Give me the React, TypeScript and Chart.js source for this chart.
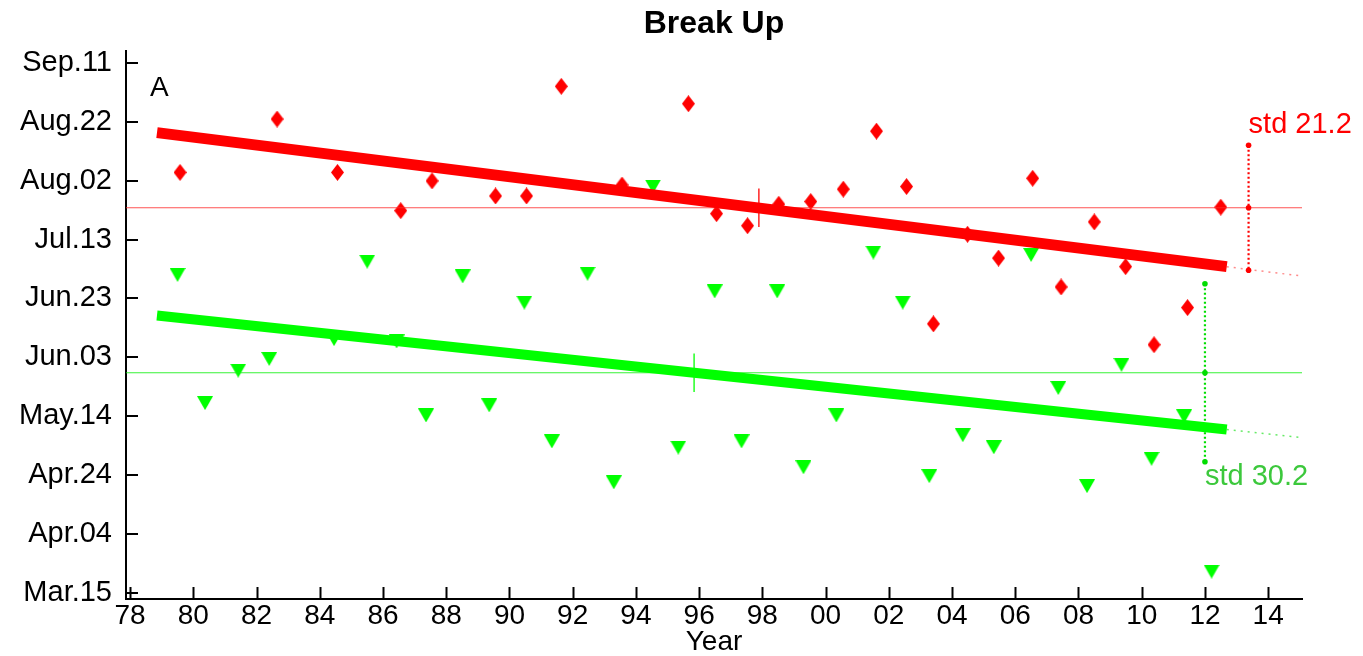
import React, { useEffect, useRef } from "react";
import { Chart, registerables } from "chart.js";

Chart.register(...registerables);

// ---------- data ----------
const TITLE = "Break Up";
const X_TITLE = "Year";
const PANEL_LABEL = "A";

const X_TICK_VALUES = [1978, 1980, 1982, 1984, 1986, 1988, 1990, 1992, 1994, 1996, 1998, 2000, 2002, 2004, 2006, 2008, 2010, 2012, 2014];
const X_TICK_LABELS = ["78", "80", "82", "84", "86", "88", "90", "92", "94", "96", "98", "00", "02", "04", "06", "08", "10", "12", "14"];
const Y_TICK_VALUES = [74, 94, 114, 134, 154, 174, 194, 214, 234, 254];
const Y_TICK_LABELS = ["Mar.15", "Apr.04", "Apr.24", "May.14", "Jun.03", "Jun.23", "Jul.13", "Aug.02", "Aug.22", "Sep.11"];

const X_MIN = 1977.87;
const X_MAX = 2015.07;
const Y_MIN = 72;
const Y_MAX = 258;

// red diamonds (fractional year, day of year)
const RED_X = [1979.58, 1982.65, 1984.56, 1986.56, 1987.55, 1989.56, 1990.54, 1991.64, 1993.56, 1995.66, 1996.55, 1997.53, 1998.52, 1999.53, 2000.56, 2001.61, 2002.56, 2003.41, 2004.49, 2005.47, 2006.55, 2007.45, 2008.5, 2009.49, 2010.39, 2011.45, 2012.5];
const RED_Y = [216.8, 234.9, 216.8, 203.8, 213.9, 208.8, 208.8, 246.0, 212.5, 240.1, 202.8, 198.7, 206.0, 206.9, 211.1, 230.8, 212.0, 165.4, 195.8, 187.7, 214.8, 177.9, 200.0, 184.8, 158.3, 170.9, 205.0];

// green triangles (fractional year, day of year)
const GREEN_X = [1979.5, 1980.37, 1981.42, 1982.4, 1984.45, 1985.5, 1986.43, 1987.36, 1988.52, 1989.36, 1990.47, 1991.34, 1992.47, 1993.3, 1994.54, 1995.34, 1996.49, 1997.34, 1998.47, 1999.3, 2000.34, 2001.51, 2002.44, 2003.28, 2004.34, 2005.32, 2006.5, 2007.36, 2008.27, 2009.36, 2010.31, 2011.34, 2012.21];
const GREEN_Y = [182.0, 138.5, 149.5, 153.5, 160.2, 186.5, 159.4, 134.3, 181.5, 137.7, 172.6, 125.5, 182.4, 111.6, 212.0, 123.4, 176.4, 125.5, 176.4, 116.7, 134.3, 189.6, 172.6, 113.7, 127.6, 123.5, 188.8, 143.6, 110.3, 151.5, 119.6, 134.0, 81.3];

// trend lines
const TREND_X = [1978.85, 2012.69];
const EXT_X = [2012.69, 2015.07];
const RED_TREND_Y = [230.3, 184.8];
const RED_EXT_Y = [184.8, 181.6];
const GREEN_TREND_Y = [168.2, 129.5];
const GREEN_EXT_Y = [129.5, 126.8];

// means and standard deviations
const RED_MEAN = 204.8;
const RED_MEAN_X = 1997.89;
const RED_STD = 21.2;
const RED_STD_X = 2013.38;
const GREEN_MEAN = 148.8;
const GREEN_MEAN_X = 1995.84;
const GREEN_STD = 30.2;
const GREEN_STD_X = 2012.0;
const MEAN_TICK_HALF = 6.5;

// ---------- styles ----------
const FONT = '"Liberation Sans", Arial, Helvetica, sans-serif';
const RED = "#ff0000";
const GREEN = "#00ff00";
const GREEN_TEXT = "#3cc83c";

function makeDiamond(): HTMLCanvasElement {
  const c = document.createElement("canvas");
  c.width = 13;
  c.height = 17;
  const g = c.getContext("2d")!;
  g.fillStyle = RED;
  g.beginPath();
  g.moveTo(6.5, 0);
  g.lineTo(13, 8.5);
  g.lineTo(6.5, 17);
  g.lineTo(0, 8.5);
  g.closePath();
  g.fill();
  return c;
}

function makeTriangle(): HTMLCanvasElement {
  const c = document.createElement("canvas");
  c.width = 16;
  c.height = 14;
  const g = c.getContext("2d")!;
  g.fillStyle = GREEN;
  g.beginPath();
  g.moveTo(0, 0);
  g.lineTo(16, 0);
  g.lineTo(8, 14);
  g.closePath();
  g.fill();
  return c;
}

const pts = (xs: number[], ys: number[]) => xs.map((x, i) => ({ x, y: ys[i] }));

export default function App() {
  const ref = useRef<HTMLCanvasElement>(null);

  useEffect(() => {
    if (!ref.current) return;
    const diamond = makeDiamond();
    const triangle = makeTriangle();

    const lineBase = { showLine: true, pointRadius: 0, pointHoverRadius: 0, fill: false } as any;

    const annotationPlugin = {
      id: "extras",
      afterDraw(chart: any) {
        const { ctx, chartArea, scales } = chart;
        const xs = scales.x;
        const ys = scales.y;
        ctx.save();
        // inward tick marks
        ctx.strokeStyle = "#000";
        ctx.lineWidth = 2;
        ctx.beginPath();
        xs.ticks.forEach((t: any) => {
          const px = Math.round(xs.getPixelForValue(t.value)) + 0.5;
          ctx.moveTo(px, chartArea.bottom);
          ctx.lineTo(px, chartArea.bottom - 12);
        });
        ys.ticks.forEach((t: any) => {
          const py = Math.round(ys.getPixelForValue(t.value));
          ctx.moveTo(chartArea.left, py);
          ctx.lineTo(chartArea.left + 12, py);
        });
        ctx.stroke();

        // title
        ctx.fillStyle = "#000";
        ctx.font = `bold 32px ${FONT}`;
        ctx.textAlign = "center";
        ctx.textBaseline = "middle";
        ctx.fillText(TITLE, (chartArea.left + chartArea.right) / 2, 24);

        // panel label
        ctx.font = `28px ${FONT}`;
        ctx.textAlign = "left";
        ctx.fillText(PANEL_LABEL, chartArea.left + 24, chartArea.top + 37);

        // std labels
        ctx.font = `29px ${FONT}`;
        ctx.fillStyle = RED;
        ctx.fillText(`std ${RED_STD.toFixed(1)}`, xs.getPixelForValue(RED_STD_X), ys.getPixelForValue(RED_MEAN + RED_STD) - 20);
        ctx.fillStyle = GREEN_TEXT;
        ctx.fillText(`std ${GREEN_STD.toFixed(1)}`, xs.getPixelForValue(GREEN_STD_X), ys.getPixelForValue(GREEN_MEAN - GREEN_STD) + 15);
        ctx.restore();
      },
    };

    const chart = new Chart(ref.current, {
      type: "scatter",
      data: {
        datasets: [
          { ...lineBase, data: pts(TREND_X, RED_TREND_Y), borderColor: RED, borderWidth: 11 },
          { ...lineBase, data: pts(TREND_X, GREEN_TREND_Y), borderColor: GREEN, borderWidth: 10 },
          { ...lineBase, data: pts([RED_MEAN_X, RED_MEAN_X], [RED_MEAN - MEAN_TICK_HALF, RED_MEAN + MEAN_TICK_HALF]), borderColor: RED, borderWidth: 1.3 },
          { ...lineBase, data: pts([GREEN_MEAN_X, GREEN_MEAN_X], [GREEN_MEAN - MEAN_TICK_HALF, GREEN_MEAN + MEAN_TICK_HALF]), borderColor: GREEN, borderWidth: 1.3 },
          {
            ...lineBase,
            data: pts([RED_STD_X, RED_STD_X, RED_STD_X], [RED_MEAN + RED_STD, RED_MEAN, RED_MEAN - RED_STD]),
            borderColor: RED, borderWidth: 2.2, borderDash: [2, 2.5],
            pointRadius: 2.8, pointBackgroundColor: RED, pointBorderWidth: 0,
          },
          {
            ...lineBase,
            data: pts([GREEN_STD_X, GREEN_STD_X, GREEN_STD_X], [GREEN_MEAN + GREEN_STD, GREEN_MEAN, GREEN_MEAN - GREEN_STD]),
            borderColor: "#00dd00", borderWidth: 2.2, borderDash: [2, 2.5],
            pointRadius: 2.8, pointBackgroundColor: "#00dd00", pointBorderWidth: 0,
          },
          { ...lineBase, data: pts(EXT_X, RED_EXT_Y), borderColor: "rgba(255,60,60,0.6)", borderWidth: 1.5, borderDash: [2, 5] },
          { ...lineBase, data: pts(EXT_X, GREEN_EXT_Y), borderColor: "rgba(0,220,0,0.6)", borderWidth: 1.5, borderDash: [2, 5] },
          { ...lineBase, data: pts([X_MIN, X_MAX], [RED_MEAN, RED_MEAN]), borderColor: "rgba(255,40,40,0.8)", borderWidth: 1.2 },
          { ...lineBase, data: pts([X_MIN, X_MAX], [GREEN_MEAN, GREEN_MEAN]), borderColor: "rgba(20,240,20,0.85)", borderWidth: 1.2 },
          { data: pts(RED_X, RED_Y), pointStyle: diamond as any, pointRadius: 7, showLine: false },
          { data: pts(GREEN_X, GREEN_Y), pointStyle: triangle as any, pointRadius: 7, showLine: false },
        ],
      },
      options: {
        animation: false,
        responsive: false,
        devicePixelRatio: 1,
        layout: { padding: { top: 51, right: 61, left: 0, bottom: 0 } },
        plugins: { legend: { display: false }, tooltip: { enabled: false }, title: { display: false } },
        events: [],
        scales: {
          x: {
            type: "linear",
            min: X_MIN,
            max: X_MAX,
            afterBuildTicks: (s: any) => { s.ticks = X_TICK_VALUES.map((v) => ({ value: v })); },
            afterFit: (s: any) => { s.height = 57; },
            ticks: {
              autoSkip: false,
              maxRotation: 0,
              padding: 5,
              color: "#000",
              font: { family: FONT, size: 28, lineHeight: 0.9 },
              callback: (v: any) => { const i = X_TICK_VALUES.indexOf(Number(v)); return i >= 0 ? X_TICK_LABELS[i] : ""; },
            },
            grid: { display: true, drawOnChartArea: false, drawTicks: false, color: "rgba(0,0,0,0)" },
            border: { display: true, color: "#000", width: 2 },
            title: { display: true, text: X_TITLE, color: "#000", font: { family: FONT, size: 28, lineHeight: 1.0 }, padding: 0 },
          },
          y: {
            type: "linear",
            min: Y_MIN,
            max: Y_MAX,
            afterBuildTicks: (s: any) => { s.ticks = Y_TICK_VALUES.map((v) => ({ value: v })); },
            afterFit: (s: any) => { s.width = 126; },
            ticks: {
              autoSkip: false,
              padding: 14,
              color: "#000",
              font: { family: FONT, size: 29 },
              callback: (v: any) => { const i = Y_TICK_VALUES.indexOf(Number(v)); return i >= 0 ? Y_TICK_LABELS[i] : ""; },
            },
            grid: { display: true, drawOnChartArea: false, drawTicks: false, color: "rgba(0,0,0,0)" },
            border: { display: true, color: "#000", width: 2 },
          },
        },
      },
      plugins: [annotationPlugin],
    });
    return () => chart.destroy();
  }, []);

  return (
    <div style={{ position: "fixed", left: 0, top: 0, width: 1363, height: 656, background: "#fff" }}>
      <canvas ref={ref} width={1363} height={656} style={{ width: 1363, height: 656, display: "block" }} />
    </div>
  );
}
